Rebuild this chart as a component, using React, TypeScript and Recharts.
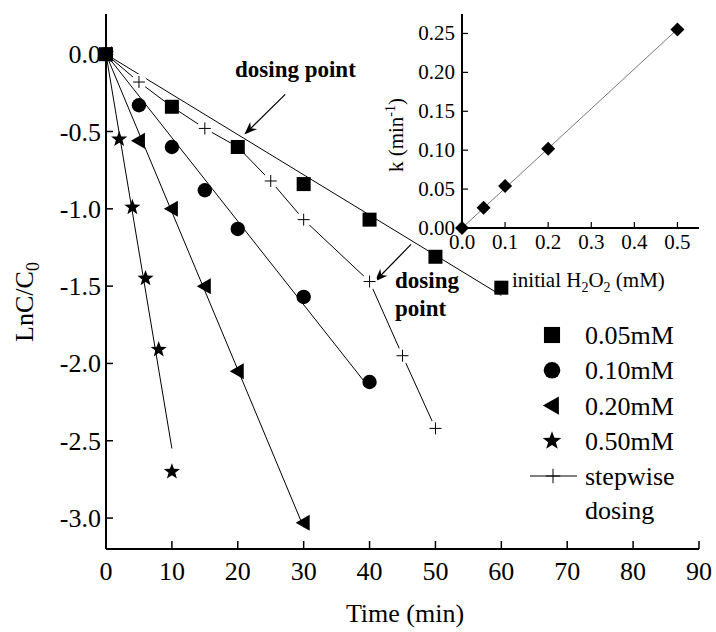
import React from "react";
import {ComposedChart, Line, ReferenceLine, Scatter, XAxis, YAxis} from "recharts";

// main plot: ln(C/C0) vs time for each initial H2O2 dose
const timeTicks = [0, 10, 20, 30, 40, 50, 60, 70, 80, 90];
const lnTicks = [0, -0.5, -1, -1.5, -2, -2.5, -3];

const t005 = [0, 10, 20, 30, 40, 50, 60];
const ln005 = [0, -0.34, -0.6, -0.84, -1.07, -1.31, -1.51];
const t010 = [0, 5, 10, 15, 20, 30, 40];
const ln010 = [0, -0.33, -0.6, -0.88, -1.13, -1.57, -2.12];
const t020 = [0, 5, 10, 15, 20, 30];
const ln020 = [0, -0.56, -1.0, -1.5, -2.05, -3.03];
const t050 = [0, 2, 4, 6, 8, 10];
const ln050 = [0, -0.55, -0.99, -1.45, -1.91, -2.7];
const tStep = [0, 5, 10, 15, 20, 25, 30, 40, 45, 50];
const lnStep = [0, -0.18, -0.34, -0.48, -0.6, -0.82, -1.07, -1.47, -1.95, -2.42];

// inset: rate constant vs initial H2O2
const h2o2 = [0, 0.05, 0.1, 0.2, 0.5];
const rateK = [0, 0.026, 0.054, 0.102, 0.255];
const insetXTicks = [0, 0.1, 0.2, 0.3, 0.4, 0.5];
const insetYTicks = [0, 0.05, 0.1, 0.15, 0.2, 0.25];

const FONT = "'Liberation Serif', 'Times New Roman', serif";

const toPts = (ts: number[], vs: number[]) => ts.map((t, i) => ({t, v: vs[i]}));

const runs = [
    {name: "0.05mM", pts: toPts(t005, ln005), k: rateK[1], kind: "square"},
    {name: "0.10mM", pts: toPts(t010, ln010), k: rateK[2], kind: "circle"},
    {name: "0.20mM", pts: toPts(t020, ln020), k: rateK[3], kind: "triangle"},
    {name: "0.50mM", pts: toPts(t050, ln050), k: rateK[4], kind: "star"},
];

// first-order fit lines, drawn up to the last sample of each run
const fitLine = (run) => {
    const end = run.pts[run.pts.length - 1].t;
    return [{t: 0, v: 0}, {t: end, v: -run.k * end}];
};

const insetPts = h2o2.map((c, i) => ({c, k: rateK[i]}));
const slope = insetPts.reduce((a, p) => a + p.c * p.k, 0) / insetPts.reduce((a, p) => a + p.c * p.c, 0);
const insetFit = [{c: 0, k: 0}, {c: h2o2[h2o2.length - 1], k: slope * h2o2[h2o2.length - 1]}];

const stepPts = toPts(tStep, lnStep);

const arrows = [
    [{x: 27.2, y: -0.26}, {x: 21.0, y: -0.52}],
    [{x: 46.3, y: -1.23}, {x: 40.8, y: -1.47}],
];

const Marker = ({kind, cx, cy, s = 1}) => {
    if (cx == null || cy == null) return null;
    switch (kind) {
        case "square":
            return <rect x={cx - 7 * s} y={cy - 7 * s} width={14 * s} height={14 * s} fill="#000"/>;
        case "circle":
            return <circle cx={cx} cy={cy} r={7.2 * s} fill="#000"/>;
        case "triangle":
            return <polygon points={`${cx - 8 * s},${cy} ${cx + 6 * s},${cy - 8 * s} ${cx + 6 * s},${cy + 8 * s}`} fill="#000"/>;
        case "star": {
            const pts = [];
            for (let i = 0; i < 10; i++) {
                const r = i % 2 === 0 ? 8.5 * s : 3.5 * s;
                const a = -Math.PI / 2 + (i * Math.PI) / 5;
                pts.push(`${cx + r * Math.cos(a)},${cy + r * Math.sin(a)}`);
            }
            return <polygon points={pts.join(" ")} fill="#000"/>;
        }
        case "diamond":
            return <polygon points={`${cx},${cy - 7 * s} ${cx + 7 * s},${cy} ${cx},${cy + 7 * s} ${cx - 7 * s},${cy}`} fill="#000"/>;
        case "plus":
            return (
                <g stroke="#000" strokeWidth={1}>
                    <line x1={cx - 6 * s} x2={cx + 6 * s} y1={cy} y2={cy}/>
                    <line x1={cx} x2={cx} y1={cy - 6 * s} y2={cy + 6 * s}/>
                </g>
            );
        default:
            return null;
    }
};

const StepDot = (p) => (
    <g key={`sd${p.index}`}>
        {p.index > 0 && <circle cx={p.cx} cy={p.cy} r={8} fill="#fff"/>}
        <Marker kind="plus" cx={p.cx} cy={p.cy}/>
    </g>
);

const Arrow = ({x1, y1, x2, y2}) => {
    const a = Math.atan2(y2 - y1, x2 - x1);
    const L = 13, W = 5;
    const bx = x2 - L * Math.cos(a), by = y2 - L * Math.sin(a);
    const nx = x2 - 0.7 * L * Math.cos(a), ny = y2 - 0.7 * L * Math.sin(a);
    const px = -Math.sin(a) * W, py = Math.cos(a) * W;
    return (
        <g>
            <line x1={x1} y1={y1} x2={nx} y2={ny} stroke="#000" strokeWidth={1.2}/>
            <polygon points={`${x2},${y2} ${bx + px},${by + py} ${nx},${ny} ${bx - px},${by - py}`} fill="#000"/>
        </g>
    );
};

const TimeTick = ({x, y, payload}) => (
    <g>
        <line x1={x} x2={x} y1={y} y2={y - 8} stroke="#000" strokeWidth={1.5}/>
        <text x={x} y={y + 31} textAnchor="middle" fontSize={26} fontFamily={FONT} fill="#000">{payload.value}</text>
    </g>
);

const LnTick = ({x, y, payload}) => (
    <g>
        <line x1={x} x2={x + 7} y1={y} y2={y} stroke="#000" strokeWidth={1.5}/>
        <text x={x - 5} y={y + 9} textAnchor="end" fontSize={26} fontFamily={FONT} fill="#000">{payload.value.toFixed(1)}</text>
    </g>
);

const InsetXTick = ({x, y, payload}) => (
    <g>
        <line x1={x} x2={x} y1={y} y2={y - 6} stroke="#000" strokeWidth={1.2}/>
        <text x={x} y={y + 21} textAnchor="middle" fontSize={21} fontFamily={FONT} fill="#000">{payload.value.toFixed(1)}</text>
    </g>
);

const InsetYTick = ({x, y, payload}) => (
    <g>
        <line x1={x} x2={x + 6} y1={y} y2={y} stroke="#000" strokeWidth={1.2}/>
        <text x={x - 7} y={y + 7} textAnchor="end" fontSize={21} fontFamily={FONT} fill="#000">{payload.value.toFixed(2)}</text>
    </g>
);

const axisStroke = {stroke: "#000", strokeWidth: 2};

const Overlay = () => (
    <svg width={716} height={632} style={{position: "absolute", left: 0, top: 0, pointerEvents: "none"}}
         fontFamily={FONT} fill="#000">
        <text x={405} y={622} textAnchor="middle" fontSize={26}>Time (min)</text>
        <text x={33} y={302} textAnchor="middle" fontSize={26} transform="rotate(-90 33 302)">
            LnC/C<tspan dy={6} fontSize={18}>0</tspan>
        </text>
        <text x={403} y={135} textAnchor="middle" fontSize={21} transform="rotate(-90 403 135)">
            k (min<tspan dy={-8} fontSize={14}>-1</tspan><tspan dy={8}>)</tspan>
        </text>
        <text x={512} y={287} fontSize={21}>
            initial H<tspan dy={5} fontSize={14}>2</tspan><tspan dy={-5}>O</tspan><tspan dy={5} fontSize={14}>2</tspan><tspan dy={-5}> (mM)</tspan>
        </text>
        <text x={235} y={77} fontSize={23} fontWeight="bold">dosing point</text>
        <text x={395} y={288} fontSize={23} fontWeight="bold">dosing</text>
        <text x={395} y={316} fontSize={23} fontWeight="bold">point</text>
        {runs.map((r, i) => (
            <g key={r.name}>
                <Marker kind={r.kind} cx={552} cy={335 + i * 35.3} s={1.15}/>
                <text x={585} y={335 + i * 35.3 + 9} fontSize={26}>{r.name}</text>
            </g>
        ))}
        <line x1={530} x2={577} y1={476} y2={476} stroke="#000" strokeWidth={1}/>
        <Marker kind="plus" cx={553} cy={476} s={1.2}/>
        <text x={585} y={485} fontSize={26}>stepwise</text>
        <text x={585} y={519} fontSize={26}>dosing</text>
    </svg>
);

export default function App() {
    return (
        <div style={{position: "absolute", left: 0, top: 0, width: 716, height: 632, background: "#fff"}}>
            <ComposedChart width={716} height={632} margin={{top: 14, right: 17, bottom: 0, left: 0}}
                           style={{position: "absolute", left: 0, top: 0}}>
                <XAxis dataKey="t" type="number" domain={[0, 90]} ticks={timeTicks} interval={0}
                       height={83} tickSize={0} tickMargin={0} tickLine={false} axisLine={axisStroke}
                       tick={(p) => <TimeTick {...p}/>}/>
                <XAxis xAxisId="frame" orientation="top" type="number" domain={[0, 90]} height={0}
                       tick={false} tickLine={false} axisLine={axisStroke}/>
                <YAxis dataKey="v" type="number" domain={[-3.2, 0.26]} ticks={lnTicks} interval={0}
                       width={106} tickSize={0} tickMargin={0} tickLine={false} axisLine={axisStroke}
                       tick={(p) => <LnTick {...p}/>}/>
                <YAxis yAxisId="frame" orientation="right" type="number" domain={[-3.2, 0.26]} width={0}
                       tick={false} tickLine={false} axisLine={axisStroke}/>

                <Line data={stepPts} dataKey="v" type="linear" stroke="#000" strokeWidth={1}
                      dot={StepDot} activeDot={false} isAnimationActive={false}/>
                {runs.map((r) => (
                    <Line key={`fit${r.name}`} data={fitLine(r)} dataKey="v" type="linear" stroke="#000"
                          strokeWidth={1} dot={false} activeDot={false} isAnimationActive={false}/>
                ))}
                {[...runs].reverse().map((r) => (
                    <Scatter key={r.name} name={r.name} data={r.pts} dataKey="v" isAnimationActive={false}
                             shape={(p) => <Marker kind={r.kind} cx={p.cx} cy={p.cy}/>}/>
                ))}
                {arrows.map((seg, i) => (
                    <ReferenceLine key={i} segment={seg} ifOverflow="visible" shape={Arrow}/>
                ))}
            </ComposedChart>

            <ComposedChart width={320} height={260} margin={{top: 14, right: 1, bottom: 0, left: 0}}
                           style={{position: "absolute", left: 380, top: 0}}>
                <XAxis dataKey="c" type="number" domain={[0, 0.55]} ticks={insetXTicks} interval={0}
                       height={32} tickSize={0} tickMargin={0} tickLine={false} axisLine={axisStroke}
                       tick={(p) => <InsetXTick {...p}/>}/>
                <YAxis dataKey="k" type="number" domain={[0, 0.275]} ticks={insetYTicks} interval={0}
                       width={82} tickSize={0} tickMargin={0} tickLine={false} axisLine={axisStroke}
                       tick={(p) => <InsetYTick {...p}/>}/>
                <Line data={insetFit} dataKey="k" type="linear" stroke="#777" strokeWidth={1}
                      dot={false} activeDot={false} isAnimationActive={false}/>
                <Scatter data={insetPts} dataKey="k" isAnimationActive={false}
                         shape={(p) => <Marker kind="diamond" cx={p.cx} cy={p.cy}/>}/>
            </ComposedChart>

            <Overlay/>
        </div>
    );
}
